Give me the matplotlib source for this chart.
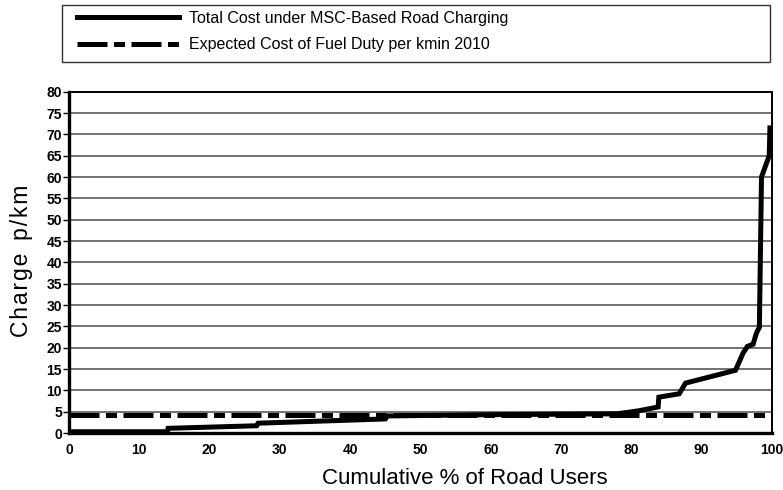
import matplotlib.pyplot as plt
from matplotlib.patches import Rectangle
import numpy as np

plt.rcParams['font.family'] = ['Liberation Sans', 'DejaVu Sans']

# cumulative % of road users vs charge (p/km)
users_pct = [0, 14, 14.1, 26.7, 26.9, 45, 45.3, 60, 78, 81, 83.8, 83.9,
             86.8, 87.7, 94.8, 95.9, 96.5, 97.3, 97.8, 98.2, 98.5, 99.6, 99.7]
charge = [0.3, 0.3, 1.1, 1.7, 2.3, 3.3, 4.0, 4.3, 4.5, 5.2, 6.1, 8.4,
          9.2, 11.7, 14.7, 18.8, 20.3, 20.8, 23.5, 24.8, 60, 65, 71.5]
fuel_duty = 4.3

yticks = np.arange(0, 81, 5)
xticks = np.arange(0, 101, 10)

W, H = 783, 490
fig = plt.figure(figsize=(W / 100, H / 100), dpi=100)
ax = fig.add_axes([0.0881, 0.1163, 0.8979, 0.6966])

ax.set_axisbelow(True)
ax.yaxis.grid(True, color='#4a4a4a', lw=1.1)
ax.plot(users_pct, charge, color='black', lw=3.6, solid_joinstyle='miter',
        label='Total Cost under MSC-Based Road Charging')
ax.plot([0, 100], [fuel_duty, fuel_duty], color='black', lw=3.6,
        dashes=(6, 1.3, 2.2, 1.3),
        label='Expected Cost of Fuel Duty per kmin 2010')

ax.set_xlim(0, 100)
ax.set_ylim(0, 80)
ax.set_yticks(yticks)
ax.set_xticks(xticks)
ax.tick_params(axis='y', direction='out', length=4, width=1, pad=1, labelsize=10)
ax.tick_params(axis='x', length=0, pad=7, labelsize=10)
for lab in ax.get_xticklabels() + ax.get_yticklabels():
    lab.set_fontweight('bold')

ax.spines['left'].set_linewidth(2.4)
ax.spines['bottom'].set_linewidth(2.4)
ax.spines['top'].set_linewidth(1.4)
ax.spines['right'].set_linewidth(1.4)

fig.text(465 / W, 1 - 478 / H, 'Cumulative % of Road Users', fontsize=16,
         ha='center', va='center')
# the y label is slightly letter-spaced in the original
ylab = '\u200a'.join('Charge') + '  ' + '\u200a'.join('p/km')
fig.text(22 / W, 1 - 261 / H, ylab, fontsize=16.5, rotation=90,
         ha='center', va='center')

# legend box drawn separately so the entries sit where they do in the picture
fig.patches.append(Rectangle((62 / W, 1 - 62 / H), 708 / W, 57 / H,
                             transform=fig.transFigure, fill=False,
                             edgecolor='#333333', lw=1.0))
leg = fig.legend(loc='upper left', bbox_to_anchor=(77 / W, 1 - 11 / H),
                 fontsize=11.5, handlelength=6.4, handletextpad=0.6,
                 frameon=False, borderaxespad=0, borderpad=0,
                 labelspacing=0.72)

fig.savefig('out.png', dpi=100)
